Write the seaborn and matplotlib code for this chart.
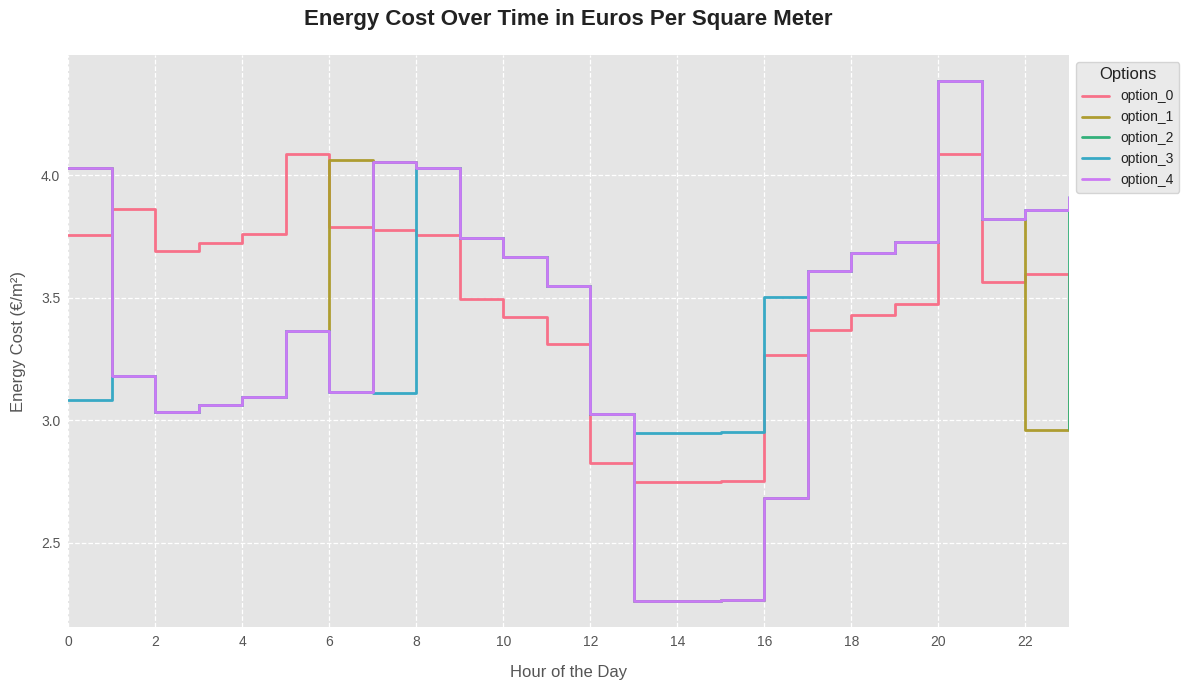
import matplotlib

matplotlib.use("Agg")
import matplotlib.pyplot as plt
import pandas as pd
import seaborn as sns

hours = list(range(24))
option_0 = [3.755, 3.864, 3.690, 3.723, 3.759, 4.088, 3.788, 3.779, 3.755, 3.494,
            3.421, 3.311, 2.826, 2.747, 2.747, 2.753, 3.265, 3.367, 3.432, 3.477,
            4.088, 3.563, 3.599, 3.400]
option_1 = [4.028, 3.182, 3.034, 3.062, 3.095, 3.363, 4.064, 4.055, 4.028, 3.746,
            3.668, 3.550, 3.028, 2.263, 2.263, 2.266, 2.685, 3.611, 3.682, 3.730,
            4.385, 3.823, 2.960, 3.400]
option_2 = [4.028, 3.182, 3.034, 3.062, 3.095, 3.363, 3.114, 4.055, 4.028, 3.746,
            3.668, 3.550, 3.028, 2.263, 2.263, 2.266, 2.685, 3.611, 3.682, 3.730,
            4.385, 3.823, 3.860, 2.965]
option_3 = [3.083, 3.182, 3.034, 3.062, 3.095, 3.363, 3.114, 3.110, 4.028, 3.746,
            3.668, 3.550, 3.028, 2.947, 2.947, 2.951, 3.505, 3.611, 3.682, 3.730,
            4.385, 3.823, 3.860, 3.912]
option_4 = [4.028, 3.182, 3.034, 3.062, 3.095, 3.363, 3.114, 4.055, 4.028, 3.746,
            3.668, 3.550, 3.028, 2.263, 2.263, 2.266, 2.685, 3.611, 3.682, 3.730,
            4.385, 3.823, 3.860, 3.912]
option_names = ["option_0", "option_1", "option_2", "option_3", "option_4"]

sns.set_style("darkgrid")
plt.rcParams.update(
    {
        "axes.facecolor": "#E5E5E5",
        "grid.color": "white",
        "grid.linestyle": "--",
        "grid.linewidth": 0.9,
        "xtick.color": "#555555",
        "ytick.color": "#555555",
        "axes.labelcolor": "#555555",
        "text.color": "#222222",
    }
)
plt.rcParams["font.family"] = ["Liberation Sans", "DejaVu Sans"]

frames = []
for name, vals in zip(option_names, [option_0, option_1, option_2, option_3, option_4]):
    frames.append(pd.DataFrame({"hour": hours, "cost": vals, "option": name}))
data = pd.concat(frames, ignore_index=True)

fig, ax = plt.subplots(figsize=(11.89, 6.9), dpi=100)
sns.lineplot(
    data=data,
    x="hour",
    y="cost",
    hue="option",
    palette="husl",
    drawstyle="steps-post",
    linewidth=2,
    ax=ax,
)
ax.set_xlim(0, 23)
ax.set_xticks(range(0, 24, 2))
ax.tick_params(labelsize=10, length=0, pad=5.5)
ax.set_title(
    "Energy Cost Over Time in Euros Per Square Meter",
    fontsize=16,
    fontweight="bold",
    pad=21.5,
)
ax.set_xlabel("Hour of the Day", fontsize=12, labelpad=11.5)
ax.set_ylabel("Energy Cost (€/m²)", fontsize=12, labelpad=10.5)
for spine in ax.spines.values():
    spine.set_visible(False)
leg = ax.legend(
    title="Options",
    loc="upper left",
    bbox_to_anchor=(1.0, 1.0),
    fontsize=10,
    title_fontsize=12,
    frameon=True,
)
leg.get_frame().set_facecolor("#E5E5E5")
leg.get_frame().set_edgecolor("#CCCCCC")
leg.get_frame().set_alpha(0.8)

fig.subplots_adjust(left=68 / 1189, right=1069 / 1189, top=1 - 55 / 690, bottom=1 - 627 / 690)
fig.savefig("out.png", dpi=100)
